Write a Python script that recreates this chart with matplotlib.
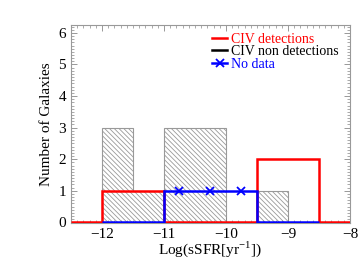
import numpy as np
import matplotlib
matplotlib.use("Agg")
import matplotlib.pyplot as plt
from matplotlib.lines import Line2D
from matplotlib.ticker import MultipleLocator

plt.rcParams['font.family'] = ['Liberation Serif', 'DejaVu Serif']
plt.rcParams['hatch.color'] = '#888888'
plt.rcParams['hatch.linewidth'] = 0.6

# Data
det_edges = [-12.5, -12.0, -11.5, -11.0, -10.5, -10.0, -9.5, -9.0, -8.5, -8.0]
det_counts = [0, 1, 1, 0, 0, 0, 2, 2, 0]
nondet_edges = [-12.0, -11.5, -11.0, -10.5, -10.0, -9.5, -9.0]
nondet_counts = [3, 1, 3, 3, 0, 1]
nodata_edges = [-12.0, -11.5, -11.0, -10.5, -10.0, -9.5, -9.0, -8.5]
nodata_counts = [0, 0, 1, 1, 1, 0, 0]
labels = ["CIV detections", "CIV non detections", "No data"]

fig = plt.figure(figsize=(3.64, 2.75), dpi=100)
ax = fig.add_axes([0.195, 0.189, 0.7665, 0.72])

# non detections: hatched gray outline histogram
ax.stairs(nondet_counts, nondet_edges, fill=True, facecolor='none',
          edgecolor='#999999', hatch='\\\\\\\\\\\\\\', linewidth=0.8, zorder=1)

ax.stairs(det_counts, det_edges, color='red', linewidth=1.8, zorder=3)
ax.stairs(nodata_counts, nodata_edges, color='blue', linewidth=1.8, zorder=4)
be = np.array(nodata_edges)
bc = np.array(nodata_counts)
centers = 0.5 * (be[:-1] + be[1:])
m2 = bc > 0
ax.plot(centers[m2], bc[m2], linestyle='none', marker='x', color='blue',
        markersize=6, markeredgewidth=1.3, zorder=5)

ax.set_xlim(-12.5, -8)
ax.set_ylim(-0.02, 6.25)
ax.xaxis.set_major_locator(MultipleLocator(1))
ax.xaxis.set_minor_locator(MultipleLocator(0.1))
ax.yaxis.set_major_locator(MultipleLocator(1))
ax.yaxis.set_minor_locator(MultipleLocator(0.1))
ax.tick_params(which='both', direction='in', top=True, right=True,
               color='#888888', labelsize=11)
ax.tick_params(which='major', length=4, width=0.6)
ax.tick_params(which='minor', length=2, width=0.5)
for s in ax.spines.values():
    s.set_color('#999999')
    s.set_linewidth(0.8)

ax.set_xlabel('Log(sSFR[yr$^{\\mathregular{-1}}$])', fontsize=11, labelpad=-1)
ax.set_ylabel('Number of Galaxies', fontsize=11, labelpad=4)

handles = [Line2D([], [], color='red', lw=1.8),
           Line2D([], [], color='black', lw=1.8),
           Line2D([], [], color='blue', lw=1.8, marker='x', markersize=6, markeredgewidth=1.3)]
leg = ax.legend(handles, labels, loc='upper left', bbox_to_anchor=(0.505, 0.96),
                frameon=False, fontsize=10, handlelength=1.1, handletextpad=0.25,
                labelspacing=-0.05, borderaxespad=0, borderpad=0)
for t, c in zip(leg.get_texts(), ['red', 'black', 'blue']):
    t.set_color(c)

fig.savefig('out.png', dpi=100)
